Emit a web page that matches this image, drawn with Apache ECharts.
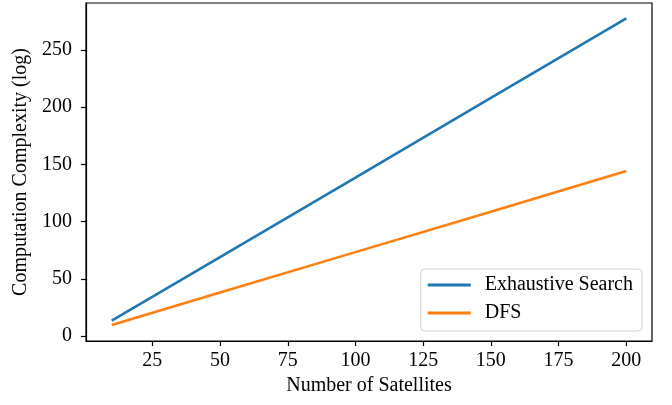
<!DOCTYPE html>
<html>
<head>
<meta charset="utf-8">
<script src="https://cdn.jsdelivr.net/npm/echarts@6/dist/echarts.min.js"></script>
<style>
  html, body { margin: 0; padding: 0; background: #fff; }
  #chart { width: 672px; height: 405px; }
</style>
</head>
<body>
<div id="chart"></div>
<script>
// Number of satellites sampled along the x axis
const satellites = [10, 50, 100, 150, 200];
// Complexity (log scale values) for each method
const exhaustiveSearch = [13.4, 69.0, 138.5, 208.1, 277.7];
const dfs = [9.6, 37.9, 73.3, 108.7, 144.2];
// Tick labels
const xTicks = [25, 50, 75, 100, 125, 150, 175, 200];
const yTicks = [0, 50, 100, 150, 200, 250];

const FONT = "'Liberation Serif', 'Times New Roman', serif";
const FS = 20;

const chart = echarts.init(document.getElementById('chart'), null, { renderer: 'canvas' });

const pairs = (xs, ys) => xs.map((x, i) => [x, ys[i]]);

chart.setOption({
  animation: false,
  backgroundColor: '#fff',
  textStyle: { fontFamily: FONT },
  grid: {
    left: 86, right: 20, top: 3, bottom: 64,
    show: true, borderColor: '#000', borderWidth: 1.2
  },
  xAxis: {
    type: 'value',
    min: 0.5, max: 209.5,
    name: 'Number of Satellites',
    nameLocation: 'middle',
    nameGap: 34,
    nameTextStyle: { fontFamily: FONT, fontSize: FS, color: '#000' },
    axisLine: { show: true, onZero: false, lineStyle: { color: '#000', width: 1.2 } },
    axisTick: { show: true, inside: false, length: 5, lineStyle: { color: '#000', width: 1.2 }, customValues: xTicks },
    axisLabel: { fontFamily: FONT, fontSize: FS, color: '#000', margin: 10, customValues: xTicks },
    splitLine: { show: false }
  },
  yAxis: {
    type: 'value',
    min: -4.4, max: 291.1,
    name: 'Computation Complexity (log)',
    nameLocation: 'middle',
    nameGap: 54,
    nameTextStyle: { fontFamily: FONT, fontSize: FS, color: '#000' },
    axisLine: { show: true, onZero: false, lineStyle: { color: '#000', width: 1.2 } },
    axisTick: { show: true, inside: false, length: 5, lineStyle: { color: '#000', width: 1.2 }, customValues: yTicks },
    axisLabel: { fontFamily: FONT, fontSize: FS, color: '#000', margin: 14, customValues: yTicks },
    splitLine: { show: false }
  },
  legend: {
    orient: 'vertical',
    right: 30, bottom: 74,
    backgroundColor: '#fff',
    borderColor: '#d0d0d0',
    borderWidth: 1,
    borderRadius: 4,
    padding: [6, 9, 8, 7],
    itemWidth: 43,
    itemHeight: 3,
    itemGap: 8,
    icon: 'rect',
    textStyle: { fontFamily: FONT, fontSize: FS, color: '#000', padding: [0, 0, 0, 9] },
    data: ['Exhaustive Search', 'DFS']
  },
  series: [
    {
      name: 'Exhaustive Search',
      type: 'line',
      data: pairs(satellites, exhaustiveSearch),
      showSymbol: false,
      symbol: 'none',
      lineStyle: { color: '#1f77b4', width: 2.6 },
      itemStyle: { color: '#1f77b4' }
    },
    {
      name: 'DFS',
      type: 'line',
      data: pairs(satellites, dfs),
      showSymbol: false,
      symbol: 'none',
      lineStyle: { color: '#ff7f0e', width: 2.6 },
      itemStyle: { color: '#ff7f0e' }
    }
  ]
});
</script>
</body>
</html>
